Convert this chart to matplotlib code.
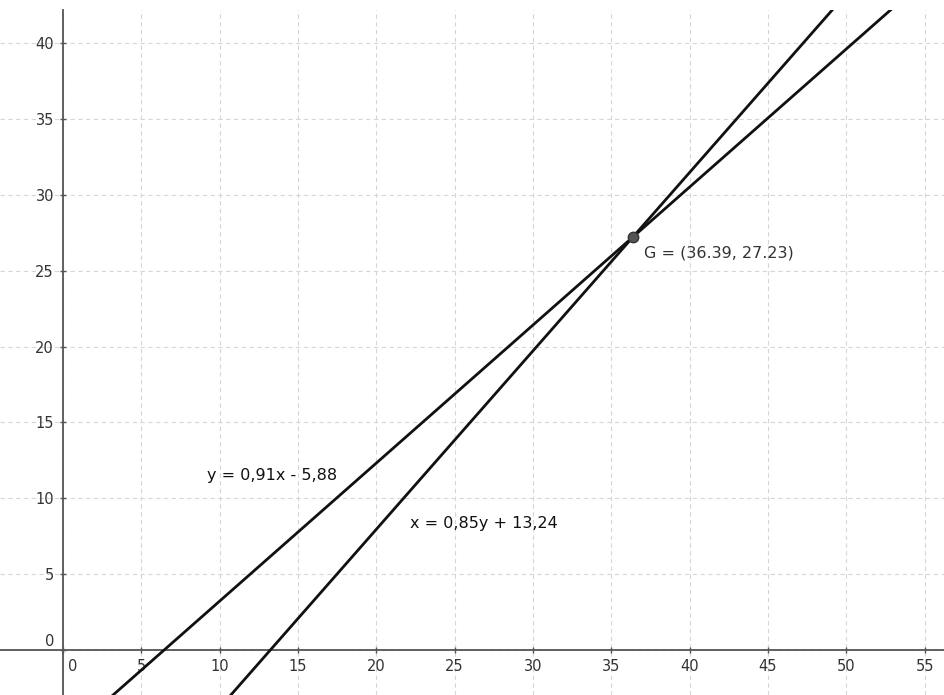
import matplotlib.pyplot as plt
import matplotlib.transforms as mtransforms
import numpy as np

# regression lines and their intersection point
slope_yx, icpt_yx = 0.91, -5.88      # y = 0.91x - 5.88
slope_xy, icpt_xy = 0.85, 13.24      # x = 0.85y + 13.24
g_point = (36.39, 27.23)

label_yx = "y = 0,91x - 5,88"
label_xy = "x = 0,85y + 13,24"
label_g = "G = (36.39, 27.23)"

x_ticks = [0, 5, 10, 15, 20, 25, 30, 35, 40, 45, 50, 55]
y_ticks = [0, 5, 10, 15, 20, 25, 30, 35, 40]

xlim = (-4.02, 56.3)
ylim = (-2.97, 42.19)

fig = plt.figure(figsize=(9.45, 6.95), dpi=100)
ax = fig.add_axes([0, 0, 1, 685 / 695])
ax.set_xlim(*xlim)
ax.set_ylim(*ylim)

# grid
for v in x_ticks:
    ax.axvline(v, color="#d6d6d6", lw=0.8, ls=(0, (4, 3)), zorder=0)
for v in y_ticks:
    ax.axhline(v, color="#d6d6d6", lw=0.8, ls=(0, (4, 3)), zorder=0)

# axes through origin
for side in ["top", "right"]:
    ax.spines[side].set_visible(False)
ax.spines["left"].set_position(("data", 0))
ax.spines["bottom"].set_position(("data", 0))
for side in ["left", "bottom"]:
    ax.spines[side].set_color("#555555")
    ax.spines[side].set_linewidth(1.3)

ax.set_xticks(x_ticks)
ax.set_yticks(y_ticks)
ax.set_xticklabels([str(t) for t in x_ticks])
ax.set_yticklabels([str(t) for t in y_ticks])
ax.tick_params(direction="inout", length=5, width=1, color="#555555",
               labelsize=10.5, labelcolor="#333333")
ax.tick_params(axis="x", pad=4)
ax.tick_params(axis="y", pad=4)

# nudge the "0" labels away from the axes
ax.get_xticklabels()[0].set_transform(
    ax.get_xticklabels()[0].get_transform()
    + mtransforms.ScaledTranslation(0.10, 0, fig.dpi_scale_trans))
ax.get_yticklabels()[0].set_transform(
    ax.get_yticklabels()[0].get_transform()
    + mtransforms.ScaledTranslation(0, 0.10, fig.dpi_scale_trans))

# lines
xs = np.array(xlim)
ax.plot(xs, slope_yx * xs + icpt_yx, color="#111111", lw=2, zorder=3)
ys = np.array(ylim)
ax.plot(slope_xy * ys + icpt_xy, ys, color="#111111", lw=2, zorder=3)

# intersection point
ax.plot(*g_point, "o", ms=7.5, color="#555555", mec="#333333", zorder=4)

ax.text(37.08, 26.2, label_g, fontsize=11.5, color="#333333", va="center")
ax.text(9.19, 11.47, label_yx, fontsize=11.5, color="#111111", va="center")
ax.text(22.14, 8.31, label_xy, fontsize=11.5, color="#111111", va="center")

fig.savefig("out.png", dpi=100)
